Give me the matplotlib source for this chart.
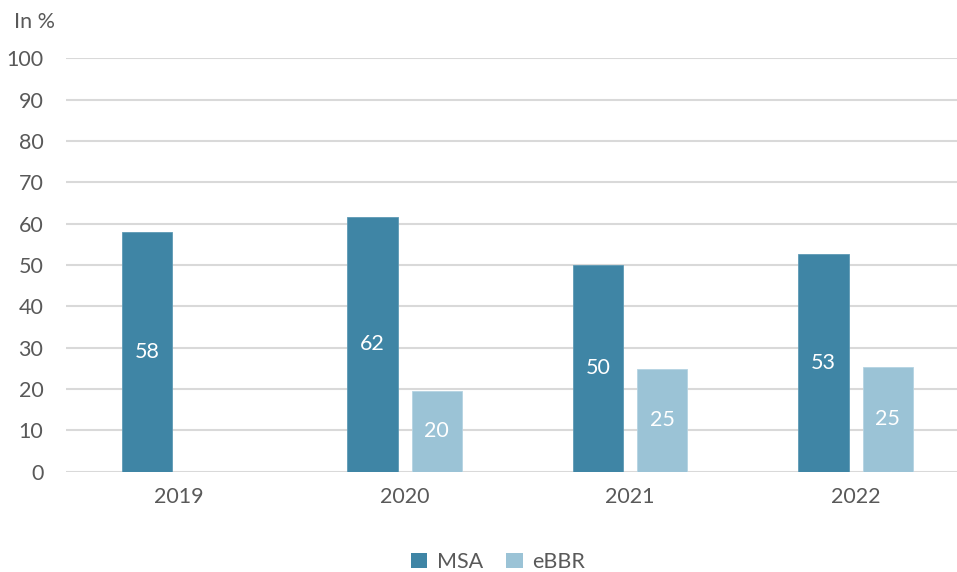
import matplotlib
matplotlib.use("Agg")
import matplotlib.pyplot as plt
from matplotlib.patches import Patch
import numpy as np

years = ["2019", "2020", "2021", "2022"]
msa = [57.9, 61.7, 50.0, 52.7]
ebbr = [None, 19.5, 24.8, 25.4]
msa_labels = ["58", "62", "50", "53"]
ebbr_labels = [None, "20", "25", "25"]
yticks = [0, 10, 20, 30, 40, 50, 60, 70, 80, 90, 100]

C_MSA = "#3F85A5"
C_EBBR = "#9BC3D6"
TXT = "#595959"
GRID = "#D9D9D9"

plt.rcParams['font.family'] = ['Lato', 'DejaVu Sans']
FS = 15.5

W, H = 957, 572
fig = plt.figure(figsize=(W / 100, H / 100), dpi=100)
left, right = 66.3, 957.0
top, bottom = 58.3, 471.7
ax = fig.add_axes([left / W, 1 - bottom / H, (right - left) / W, (bottom - top) / H])

x = np.arange(len(years))
bw = 0.223
off = 0.1427

for i in range(len(years)):
    ax.bar(x[i] - off, msa[i], width=bw, color=C_MSA, edgecolor="#5E9AB5", linewidth=0.6, zorder=3)
    ax.text(x[i] - off, msa[i] / 2, msa_labels[i], ha="center", va="center",
            color="white", fontsize=FS, zorder=4)
    if ebbr[i] is not None:
        ax.bar(x[i] + off, ebbr[i], width=bw, color=C_EBBR, edgecolor="#B5D4E2", linewidth=0.6, zorder=3)
        ax.text(x[i] + off, ebbr[i] / 2, ebbr_labels[i], ha="center", va="center",
                color="white", fontsize=FS, zorder=4)

ax.set_xlim(-0.5, len(years) - 0.5 - 11.3 / 225.5)
ax.set_ylim(0, 100)
ax.set_yticks(yticks)
ax.set_yticklabels([str(v) for v in yticks])
ax.set_xticks(x)
ax.set_xticklabels(years)
ax.tick_params(axis="both", length=0, labelsize=FS, labelcolor=TXT)
ax.tick_params(axis="y", pad=16.5)
ax.tick_params(axis="x", pad=11)
ax.yaxis.grid(True, color=GRID, linewidth=1.5, zorder=0)
ax.set_axisbelow(True)
for s in ax.spines.values():
    s.set_visible(False)

fig.text(14 / W, 1 - 22 / H, "In %", ha="left", va="center", color=TXT, fontsize=FS)

handles = [Patch(facecolor=C_MSA, label="MSA"), Patch(facecolor=C_EBBR, label="eBBR")]
fig.legend(handles=handles, loc="center", bbox_to_anchor=(498 / W, 1 - 562 / H), ncol=2,
           frameon=False, fontsize=FS, labelcolor=TXT, handlelength=0.75, handleheight=0.75,
           handletextpad=0.45, columnspacing=1.1)

fig.savefig("out.png", dpi=100)
